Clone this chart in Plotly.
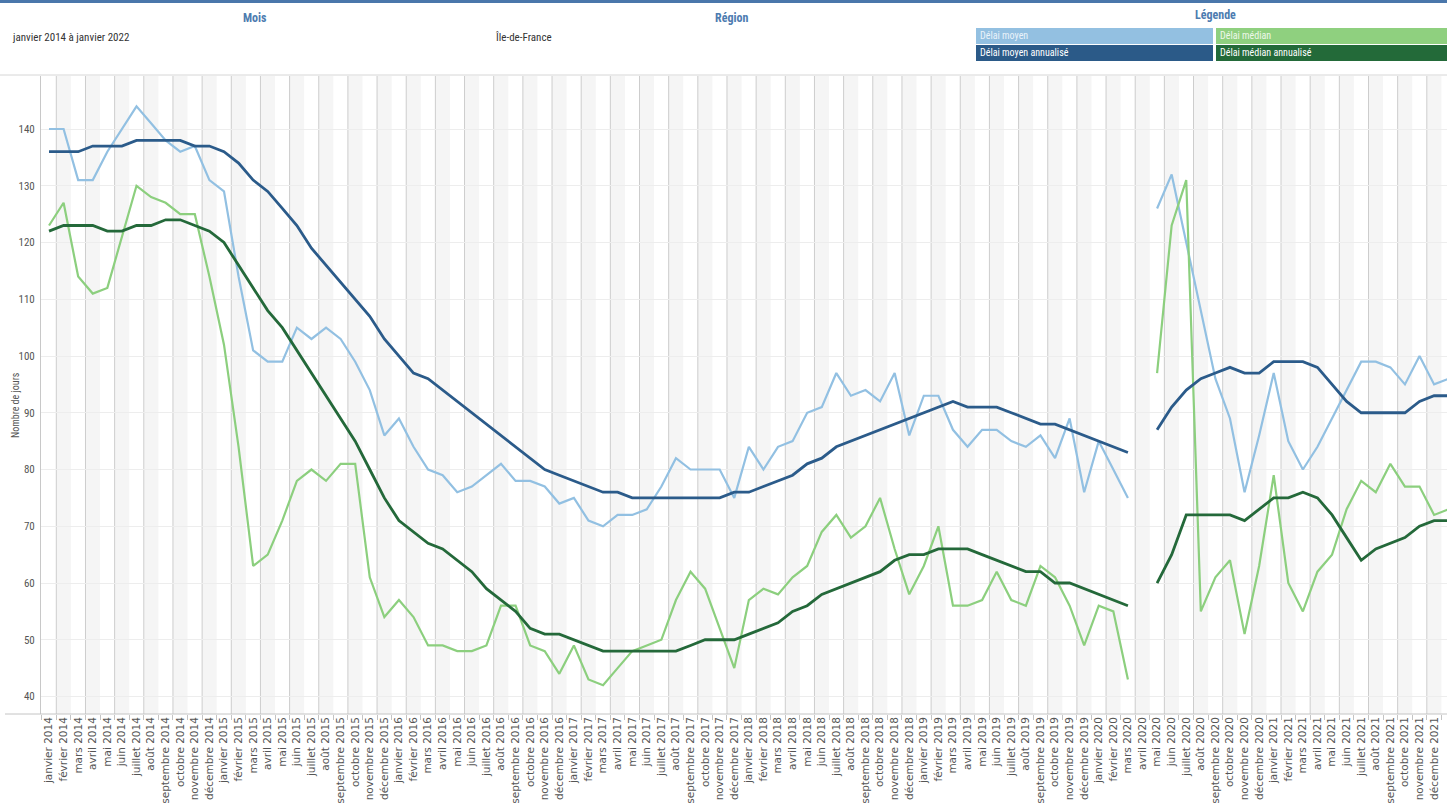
import plotly.graph_objects as go

# ---------------- data ----------------
mois_noms = ["janvier", "février", "mars", "avril", "mai", "juin", "juillet", "août",
             "septembre", "octobre", "novembre", "décembre"]
annees = [2014, 2015, 2016, 2017, 2018, 2019, 2020, 2021, 2022]
mois_labels = [f"{m} {a}" for a in annees for m in mois_noms][:97]

delai_moyen = [
    140, 140, 131, 131, 136, 140, 144, 141, 138, 136, 137, 131,
    129, 114, 101, 99, 99, 105, 103, 105, 103, 99, 94, 86,
    89, 84, 80, 79, 76, 77, 79, 81, 78, 78, 77, 74,
    75, 71, 70, 72, 72, 73, 77, 82, 80, 80, 80, 75,
    84, 80, 84, 85, 90, 91, 97, 93, 94, 92, 97, 86,
    93, 93, 87, 84, 87, 87, 85, 84, 86, 82, 89, 76,
    85, 80, 75, None, 126, 132, 120, 108, 96, 89, 76, 86,
    97, 85, 80, 84, 89, 94, 99, 99, 98, 95, 100, 95, 96]

delai_moyen_annualise = [
    136, 136, 136, 137, 137, 137, 138, 138, 138, 138, 137, 137,
    136, 134, 131, 129, 126, 123, 119, 116, 113, 110, 107, 103,
    100, 97, 96, 94, 92, 90, 88, 86, 84, 82, 80, 79,
    78, 77, 76, 76, 75, 75, 75, 75, 75, 75, 75, 76,
    76, 77, 78, 79, 81, 82, 84, 85, 86, 87, 88, 89,
    90, 91, 92, 91, 91, 91, 90, 89, 88, 88, 87, 86,
    85, 84, 83, None, 87, 91, 94, 96, 97, 98, 97, 97,
    99, 99, 99, 98, 95, 92, 90, 90, 90, 90, 92, 93, 93]

delai_median = [
    123, 127, 114, 111, 112, 121, 130, 128, 127, 125, 125, 114,
    102, 84, 63, 65, 71, 78, 80, 78, 81, 81, 61, 54,
    57, 54, 49, 49, 48, 48, 49, 56, 56, 49, 48, 44,
    49, 43, 42, 45, 48, 49, 50, 57, 62, 59, 52, 45,
    57, 59, 58, 61, 63, 69, 72, 68, 70, 75, 66, 58,
    63, 70, 56, 56, 57, 62, 57, 56, 63, 61, 56, 49,
    56, 55, 43, None, 97, 123, 131, 55, 61, 64, 51, 63,
    79, 60, 55, 62, 65, 73, 78, 76, 81, 77, 77, 72, 73]

delai_median_annualise = [
    122, 123, 123, 123, 122, 122, 123, 123, 124, 124, 123, 122,
    120, 116, 112, 108, 105, 101, 97, 93, 89, 85, 80, 75,
    71, 69, 67, 66, 64, 62, 59, 57, 55, 52, 51, 51,
    50, 49, 48, 48, 48, 48, 48, 48, 49, 50, 50, 50,
    51, 52, 53, 55, 56, 58, 59, 60, 61, 62, 64, 65,
    65, 66, 66, 66, 65, 64, 63, 62, 62, 60, 60, 59,
    58, 57, 56, None, 60, 65, 72, 72, 72, 72, 71, 73,
    75, 75, 76, 75, 72, 68, 64, 66, 67, 68, 70, 71, 71]

y_ticks = [40, 50, 60, 70, 80, 90, 100, 110, 120, 130, 140]

series = [
    ("Délai moyen", delai_moyen, "#92c0e2", 2.2),
    ("Délai médian", delai_median, "#8ccf7e", 2.2),
    ("Délai moyen annualisé", delai_moyen_annualise, "#2b5b8a", 2.8),
    ("Délai médian annualisé", delai_median_annualise, "#24693a", 2.8),
]

# ---------------- layout helpers ----------------
W, H = 1447, 803
L, T, B, R = 41, 76, 714, 1447


def px(x):
    return (x - L) / (R - L)


def py(y):
    return (B - y) / (B - T)


xs = list(range(len(mois_labels)))
NARROW = "Liberation Sans Narrow, Roboto Condensed, Arial Narrow, Liberation Sans, sans-serif"

fig = go.Figure()
for name, vals, col, w in series:
    fig.add_trace(go.Scatter(x=xs, y=vals, mode="lines", name=name,
                             line=dict(color=col, width=w), connectgaps=False,
                             hoverinfo="skip"))

shapes = []
# alternating month bands + separators
for i in xs:
    if i % 2 == 1:
        shapes.append(dict(type="rect", xref="x", yref="paper", x0=i - 0.5, x1=i + 0.5,
                           y0=0, y1=1, fillcolor="#f5f5f5", line=dict(width=0), layer="below"))
        shapes.append(dict(type="line", xref="x", yref="paper", x0=i - 0.5, x1=i - 0.5,
                           y0=0, y1=1, line=dict(color="#cdcdcd", width=1), layer="below"))
# bottom axis line extended to left
shapes.append(dict(type="line", xref="paper", yref="paper", x0=px(5), x1=1, y0=0, y1=0,
                   line=dict(color="#c4c4c4", width=1)))
# header separator
shapes.append(dict(type="line", xref="paper", yref="paper", x0=px(0), x1=1, y0=py(75), y1=py(75),
                   line=dict(color="#d6d6d6", width=1)))
# top bar
shapes.append(dict(type="rect", xref="paper", yref="paper", x0=px(0), x1=1, y0=py(3), y1=py(0),
                   fillcolor="#4a77ab", line=dict(width=0)))
# legend boxes
leg_boxes = [
    (976, 1213, 28, 44, "#93c0e1", "Délai moyen", "#eaf3fa"),
    (1216, 1447, 28, 44, "#8fd07f", "Délai médian", "#eef8ea"),
    (976, 1213, 45, 61, "#2b5a88", "Délai moyen annualisé", "#ffffff"),
    (1216, 1447, 45, 61, "#236a39", "Délai médian annualisé", "#ffffff"),
]
annotations = []
for x0, x1, y0, y1, col, txt, tcol in leg_boxes:
    shapes.append(dict(type="rect", xref="paper", yref="paper", x0=px(x0), x1=px(x1),
                       y0=py(y1), y1=py(y0), fillcolor=col, line=dict(width=0)))
    annotations.append(dict(xref="paper", yref="paper", x=px(x0 + 2), y=py((y0 + y1) / 2),
                            text=txt, showarrow=False, xanchor="left", yanchor="middle",
                            font=dict(family=NARROW, size=10, color=tcol)))

hdr_col = "#4d7cb0"
annotations += [
    dict(x=px(255), y=py(18), text="<b>Mois</b>", font=dict(family=NARROW, size=12, color=hdr_col)),
    dict(x=px(731), y=py(18), text="<b>Région</b>", font=dict(family=NARROW, size=12, color=hdr_col)),
    dict(x=px(1215), y=py(15), text="<b>Légende</b>", font=dict(family=NARROW, size=12, color=hdr_col)),
    dict(x=px(10), y=py(37), text="janvier 2014 à janvier 2022", xanchor="left",
         font=dict(family=NARROW, size=11, color="#333333")),
    dict(x=px(493), y=py(37), text="Île-de-France", xanchor="left",
         font=dict(family=NARROW, size=11, color="#333333")),
    dict(x=px(15), y=py(405), text="Nombre de jours", textangle=-90,
         font=dict(family=NARROW, size=10, color="#555555")),
]
for a in annotations[-6:]:
    a.update(xref="paper", yref="paper", showarrow=False)
    a.setdefault("xanchor", "center")
    a.setdefault("yanchor", "middle")

fig.update_layout(
    width=W, height=H, template="none",
    margin=dict(l=L, r=W - R, t=T, b=H - B, pad=0),
    paper_bgcolor="white", plot_bgcolor="white",
    showlegend=False, hovermode=False,
    shapes=shapes, annotations=annotations,
    xaxis=dict(range=[-0.55, (R - 49) / 14.58], tickmode="array", tickvals=xs,
               ticktext=mois_labels, tickangle=-90, showgrid=False, zeroline=False,
               showline=False, ticks="", automargin=False,
               tickfont=dict(family="DejaVu Sans", size=10.5, color="#555555"),
               minor=dict(tickmode="linear", tick0=-0.5, dtick=1, ticks="outside",
                          ticklen=5, tickcolor="#c4c4c4", showgrid=False)),
    yaxis=dict(range=[36.92, 149.34], tickmode="array", tickvals=y_ticks,
               showgrid=True, gridcolor="#ededed", gridwidth=1, zeroline=False,
               showline=True, linecolor="#c8c8c8", linewidth=1, ticks="",
               automargin=False, ticklabelstandoff=3,
               tickfont=dict(family=NARROW, size=11, color="#555555")),
)

fig.write_html("out.html", config={"displayModeBar": False},
               post_script="document.body.style.margin='0px';document.body.style.overflow='hidden';")
